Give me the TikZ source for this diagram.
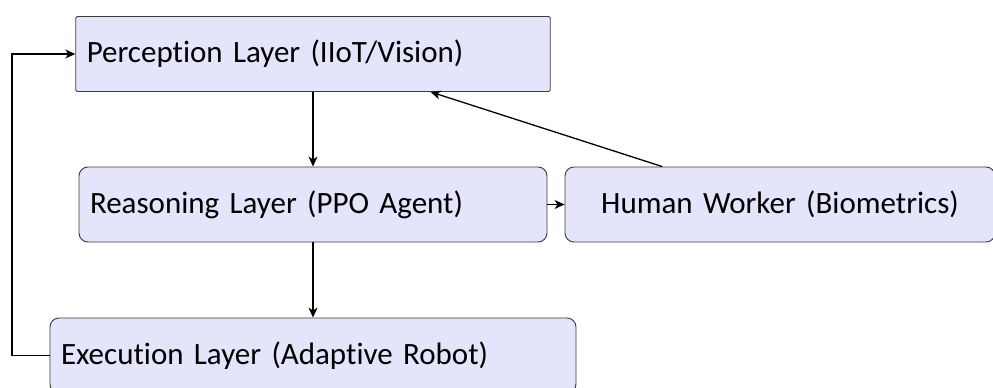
\documentclass[tikz,border=0pt]{standalone}
\usepackage{fontspec}
\setmainfont{Carlito}[Ligatures={NoCommon}]
\usetikzlibrary{arrows.meta}
\definecolor{boxfill}{RGB}{228,228,251}
\definecolor{boxline}{RGB}{60,60,60}
\begin{document}
\begin{tikzpicture}[x=1pt,y=-1pt,
  layerbox/.style={draw=boxline, line width=0.9pt, fill=boxfill, rounded corners=9pt,
    minimum height=75pt, inner xsep=11pt, inner ysep=0pt, align=left,
    font=\fontsize{31}{36}\selectfont},
  conn/.style={line width=1.3pt, -{Stealth[length=10pt,width=9pt,inset=3pt]}}]
\useasboundingbox (0,0) rectangle (993,388);
\node[layerbox, rounded corners=1.5pt, text width=452.5pt] (perc) at (313,54) {Perception Layer (IIoT/Vision)};
\node[layerbox, text width=446pt] (reas) at (313,204.5) {Reasoning Layer (PPO Agent)};
\node[layerbox, text width=408pt, align=center] (human) at (780,204.5) {Human Worker (Biometrics)};
\node[layerbox, text width=504pt] (exec) at (313,355.5) {Execution Layer (Adaptive Robot)};
\coordinate (fb) at (12,200);
\draw[conn] (perc) -- (reas);
\draw[conn] (reas) -- (exec);
\draw[conn] (reas) -- (human);
\draw[conn] (human) -- (perc);
\draw[conn] (exec.west) -| (fb) |- (perc.west);
\end{tikzpicture}
\end{document}
